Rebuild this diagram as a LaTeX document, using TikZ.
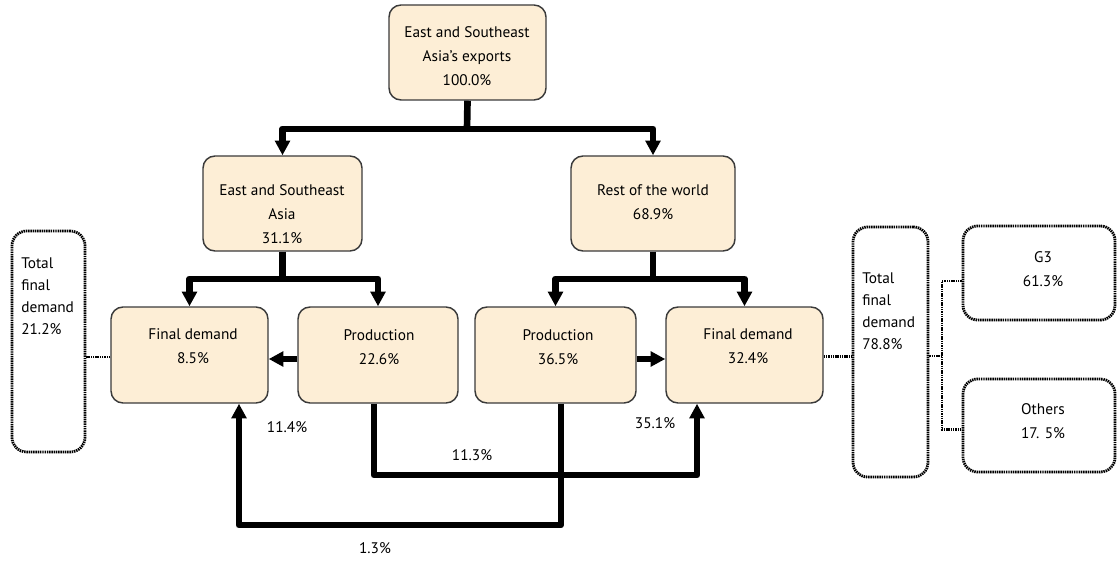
\documentclass[tikz,border=0pt]{standalone}
\usepackage{fontspec}
\setmainfont{PT Sans}
\usetikzlibrary{arrows.meta}
\definecolor{boxfill}{HTML}{FDEED6}
\definecolor{boxline}{HTML}{3A3A3A}
\begin{document}
\begin{tikzpicture}[x=0.75pt,y=-0.75pt,
  sz/.style 2 args={minimum width=#1*0.75pt, minimum height=#2*0.75pt},
  box/.style={draw=boxline, fill=boxfill, line width=1.1pt, rounded corners=9pt, inner sep=0pt},
  dotbox/.style={draw=black, line width=2.1pt, dash pattern=on 1.1pt off 0.6pt, rounded corners=11pt, inner sep=0pt},
  dotline/.style={draw=black, line width=2.1pt, dash pattern=on 1.1pt off 0.6pt},
  txt/.style={font=\fontsize{11.5}{18}\selectfont, align=center, inner sep=0pt},
  ltxt/.style={font=\fontsize{11.5}{16.5}\selectfont, align=left, inner sep=0pt, anchor=west},
  flow/.style={draw=black, line width=5pt, line join=round},
  flowarrow/.style={flow, -{Triangle[width=11pt,length=11pt]}},
]
\useasboundingbox (0,0) rectangle (1117,563);

% boxes
\node[box, sz={157}{95}] (top) at (467.5,52.5) {};
\node[box, sz={159}{95}] (esa) at (282.5,203.5) {};
\node[box, sz={164}{95}] (row) at (653,203.5) {};
\node[box, sz={157}{96}] (fdl) at (189.5,355) {};
\node[box, sz={160}{96}] (pl) at (378,355) {};
\node[box, sz={161}{96}] (pr) at (555.5,355) {};
\node[box, sz={157}{96}] (fdr) at (744.5,355) {};
\node[dotbox, sz={73}{221}] (ltfd) at (48.5,341.5) {};
\node[dotbox, sz={75}{250}] (rtfd) at (890.5,352) {};
\node[dotbox, sz={152}{94}] (g3) at (1039,273) {};
\node[dotbox, sz={152}{93}] (oth) at (1039,425.5) {};

% texts
\node[txt] (ttop) at (467,56) {East and Southeast\\Asia’s exports\\100.0\%};
\node[txt] (tesa) at (282,214) {East and Southeast\\Asia\\31.1\%};
\node[txt] (trow) at (653,202) {Rest of the world\\68.9\%};
\node[txt] (tfdl) at (193,346) {Final demand\\8.5\%};
\node[txt] (tpl) at (379,347) {Production\\22.6\%};
\node[txt] (tpr) at (558,347) {Production\\36.5\%};
\node[txt] (tfdr) at (748,346) {Final demand\\32.4\%};
\node[ltxt] (tltfd) at (21,296) {Total\\final\\demand\\21.2\%};
\node[ltxt] (trtfd) at (862,311) {Total\\final\\demand\\78.8\%};
\node[txt] (tg3) at (1043,269) {G3\\61.3\%};
\node[txt] (toth) at (1043,421) {Others\\17. 5\%};

% percentage labels
\node[txt] (l114) at (287,427) {11.4\%};
\node[txt] (l113) at (472,455) {11.3\%};
\node[txt] (l351) at (655,423) {35.1\%};
\node[txt] (l13) at (375,548) {1.3\%};

% tree connectors
\coordinate (b1) at (467,129);
\draw[flow] (top.south) -- (b1);
\draw[flowarrow] (b1) -| (esa.north);
\draw[flowarrow] (b1) -| (row.north);

\coordinate (b2) at (282.5,279);
\draw[flow] (esa.south) -- (b2);
\draw[flowarrow] (b2) -| (fdl.north);
\draw[flowarrow] (b2) -| (pl.north);

\coordinate (b3) at (653,279);
\draw[flow] (row.south) -- (b3);
\draw[flowarrow] (b3) -| (pr.north);
\draw[flowarrow] (b3) -| (fdr.north);

% horizontal arrows
\draw[flowarrow] ([yshift=-3pt]pl.west) -- ([yshift=-3pt]pl.west -| fdl.east);
\draw[flowarrow] ([yshift=-3pt]pr.east) -- ([yshift=-3pt]pr.east -| fdr.west);

% lower flows
\coordinate (c1) at (697,475);
\draw[flowarrow] ([xshift=-3pt]pl.south) |- (c1) -- (c1 |- fdr.south);
\coordinate (c2) at (239,525);
\draw[flowarrow] ([xshift=4pt]pr.south) |- (c2) -- (c2 |- fdl.south);

% dotted connectors
\draw[dotline] ([yshift=-1.5pt]fdl.west) -- ([yshift=-1.5pt]fdl.west -| ltfd.east);
\draw[dotline] ([yshift=-1pt]fdr.east) -- ([yshift=-1pt]fdr.east -| rtfd.west);
\coordinate (j) at (942,356);
\draw[dotline] (j -| rtfd.east) -- (j);
\draw[dotline] ([yshift=-6pt]g3.west) -| (j) |- ([yshift=-3pt]oth.west);
\end{tikzpicture}
\end{document}
